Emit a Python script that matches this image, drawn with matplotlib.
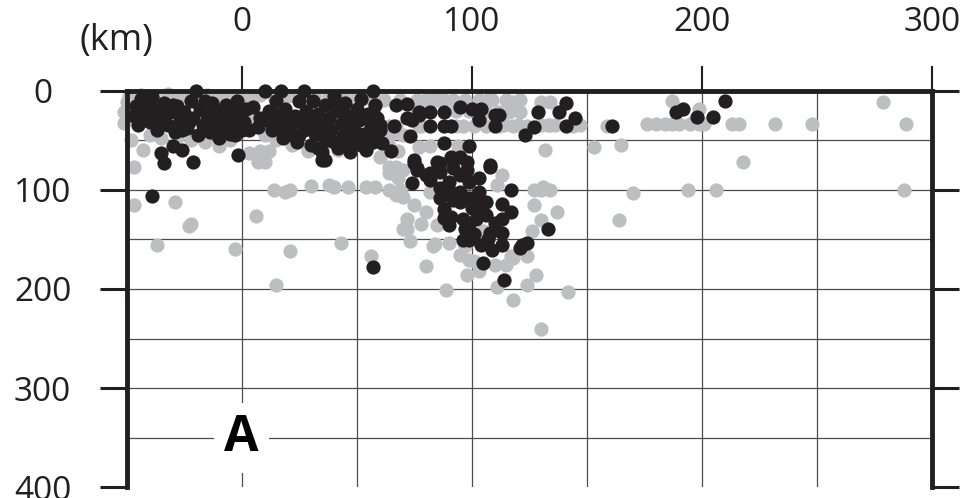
import matplotlib.pyplot as plt
import numpy as np

# distance along profile (km), depth (km)
gray_pts = [
    (-49, 5), (-44, 4), (-38, 6), (-32, 3), (-27, 5), (-22, 8), (-15, 4), (-10, 6), (-5, 5), (0, 8),
    (4, 8), (8, 4), (14, 6), (20, 5), (26, 4), (32, 6), (38, 5), (44, 6), (50, 5), (56, 8),
    (62, 9), (69, 9), (76, 9), (80, 9), (83, 9), (85, 9), (88, 9), (92, 9), (97, 9), (103, 9),
    (107, 9), (109, 9), (115, 9), (117, 11), (119, 11), (121, 9), (130, 11), (134, 11),
    (-50, 11), (-51, 22), (-51, 33), (-48, 50), (-43, 60), (-47, 77), (-40, 45), (-35, 48),
    (-28, 47), (-22, 50), (-16, 52), (-10, 56), (-5, 50), (3, 28), (3, 63), (8, 61), (10, 45),
    (10, 72), (12, 61), (7, 72), (15, 50), (22, 55), (29, 61), (35, 58), (42, 60), (48, 58),
    (55, 55), (60, 50), (64, 56), (68, 61), (60, 67), (65, 44),
    (76, 20), (77, 22), (93, 20), (99, 20), (106, 22), (112, 22), (116, 22), (121, 21),
    (64, 36), (67, 36), (77, 36), (78, 36), (93, 36), (96, 36), (101, 36), (106, 36), (112, 36),
    (114, 35), (118, 36), (120, 35), (124, 36), (130, 35), (133, 35), (134, 35), (136, 35),
    (144, 36), (147, 35),
    (59, 45), (70, 45), (82, 56), (77, 57), (94, 56), (132, 60), (153, 57), (165, 55),
    (64, 77), (70, 80), (67, 77), (64, 83), (113, 85), (111, 95),
    (40, 97), (46, 97), (54, 97), (58, 97), (64, 100), (69, 100), (127, 100), (130, 100),
    (134, 100), (131, 97),
    (30, 96), (38, 95), (14, 100), (19, 102), (21, 100), (68, 88), (67, 105), (70, 107),
    (75, 115), (82, 102),
    (72, 129), (72, 140), (78, 134), (80, 122), (73, 152), (70, 140), (84, 155), (83, 157), (85, 135),
    (90, 154), (95, 166), (98, 186), (89, 201), (103, 182), (110, 176), (111, 198), (118, 169),
    (118, 211), (124, 196), (128, 186), (130, 240), (142, 203), (127, 115), (130, 130), (137, 122),
    (126, 142), (124, 167), (117, 167), (101, 172), (105, 142), (99, 171), (97, 157), (115, 176),
    (80, 177), (56, 167), (43, 154),
    (164, 130), (170, 103),
    (-47, 115), (-29, 112), (-22, 134), (-23, 136), (-37, 156), (-3, 160), (6, 126), (21, 162), (15, 196),
    (176, 34), (180, 34), (184, 34), (187, 34), (190, 34), (195, 34), (199, 34), (201, 34),
    (213, 34), (216, 34), (232, 34), (248, 34), (289, 34), (187, 10), (199, 18), (279, 11),
    (159, 36), (218, 72), (194, 100), (206, 100), (288, 100),
]

black_pts = [
    (-47, 26), (-46, 15), (-45, 35), (-44, 8), (-42, 22), (-41, 12), (-40, 32), (-39, 6),
    (-38, 18), (-37, 40), (-35, 26), (-34, 12), (-32, 35), (-31, 22), (-29, 42), (-28, 15),
    (-27, 30), (-25, 22), (-24, 38), (-22, 10), (-21, 28), (-20, 0), (-19, 45), (-18, 18),
    (-17, 35), (-15, 25), (-14, 42), (-13, 12), (-12, 30), (-10, 48), (-10, 20), (-8, 36),
    (-7, 14), (-6, 27), (-5, 44), (-4, 20), (-3, 34), (-2, 10), (-1, 25), (0, 40), (2, 18),
    (-43, 30), (-36, 33), (-30, 14), (-26, 40), (-23, 32), (-16, 10), (-11, 38), (-9, 28),
    (-3, 45), (1, 32), (3, 40),
    (5, 16), (7, 37), (8, 28), (10, 0), (12, 20), (13, 40), (15, 10), (16, 30), (17, 0),
    (18, 48), (19, 18), (21, 36), (23, 26), (24, 52), (25, 10), (27, 0), (27, 40), (28, 20),
    (29, 30), (30, 55), (31, 10), (32, 44), (33, 24), (34, 35), (35, 62), (36, 14), (37, 50),
    (38, 28), (39, 40), (40, 5), (41, 20), (42, 58), (43, 34), (44, 46), (45, 12), (46, 26),
    (47, 62), (48, 38), (49, 50), (50, 18), (51, 30), (52, 8), (53, 44), (54, 60), (55, 24),
    (56, 36), (57, 0), (57, 52), (58, 14), (59, 28), (60, 40), (36, 70), (-1.5, 65),
    (20, 26), (22, 45), (26, 33), (31, 38), (35, 45), (40, 12), (44, 22), (47, 48), (50, 43),
    (52, 55), (55, 48), (58, 45), (45, 55), (40, 52), (33, 58), (25, 45), (19, 40), (14, 24), (11, 30),
    (-30, 56), (-35, 63), (-34, 73), (-26, 60), (-21, 72), (-39, 106),
    (57, 21), (60, 35), (66, 36), (61, 53), (65, 61), (67, 14), (72, 13), (72, 28), (74, 30), (73, 46),
    (77, 25), (77, 21), (82, 21), (88, 21), (95, 16), (100, 18), (104, 18), (110, 25), (82, 36),
    (88, 36), (91, 36), (103, 30), (110, 36), (112, 25), (129, 21), (123, 45), (127, 37),
    (138, 22), (141, 12), (145, 28), (141, 36), (161, 36),
    (88, 53), (99, 56), (108, 75), (75, 73), (85, 72), (91, 67), (95, 67), (98, 72), (75, 70),
    (76, 80), (82, 83), (86, 73), (92, 70),
    (76, 78), (74, 93), (80, 85), (86, 98), (86, 108), (88, 119), (90, 135), (91, 127), (95, 85),
    (95, 102), (95, 112), (96, 129), (96, 151), (99, 151), (99, 139), (99, 92), (99, 108),
    (103, 88), (103, 102), (103, 119), (106, 125), (102, 129), (108, 144), (104, 156), (105, 174),
    (109, 161), (113, 144), (113, 156), (113, 129), (113, 114), (117, 122), (117, 100), (114, 191),
    (122, 156), (124, 154), (133, 139), (108, 77), (86, 82), (92, 78), (98, 80), (90, 92),
    (103, 110), (121, 159), (82, 90), (90, 100), (92, 110), (88, 128), (100, 118), (106, 112),
    (97, 140), (101, 145), (110, 133), (107, 150),
    (35, 70), (57, 178),
    (189, 21), (192, 18), (198, 27), (205, 27), (210, 10),
]

xticks = [0, 100, 200, 300]
yticks = [0, 100, 200, 300, 400]
xgrid = [0, 50, 100, 150, 200, 250]
ygrid = [50, 100, 150, 200, 250, 300, 350]

gray = np.array(gray_pts)
black = np.array(black_pts)

plt.rcParams['font.family'] = ['Open Sans', 'DejaVu Sans']
ink = '#231f20'

fig = plt.figure(figsize=(9.68, 4.98), dpi=100)
ax = fig.add_axes([0.1309, 0.0215, 0.8316, 0.7964])

for g in xgrid:
    ax.axvline(g, color='#4d4d4d', lw=0.9, zorder=0.5)
for g in ygrid:
    ax.axhline(g, color='#4d4d4d', lw=0.9, zorder=0.5)

ax.scatter(gray[:, 0], gray[:, 1], s=105, color='#bcbec0', linewidths=0, zorder=1, clip_on=False)
ax.scatter(black[:, 0], black[:, 1], s=105, color=ink, linewidths=0, zorder=1.2, clip_on=False)

ax.set_xlim(-50, 300)
ax.set_ylim(400, 0)

ax.spines['bottom'].set_visible(False)
for s in ['top', 'left', 'right']:
    ax.spines[s].set_linewidth(3.5)
    ax.spines[s].set_color(ink)

ax.xaxis.tick_top()
ax.set_xticks(xticks)
ax.set_yticks(yticks)
ax.set_xticklabels([str(v) for v in xticks])
ax.set_yticklabels([str(v) for v in yticks])
ax.tick_params(axis='x', direction='out', length=18, width=1.5, pad=19, labelsize=24,
               colors=ink, top=True, bottom=False, labeltop=True, labelbottom=False)
ax.tick_params(axis='y', direction='out', length=19.5, width=2.2, pad=41, labelsize=24,
               colors=ink, left=True, right=True, labelleft=True, labelright=False)
for lbl in ax.get_yticklabels():
    lbl.set_horizontalalignment('center')

fig.text(116 / 968, 1 - 50 / 498, '(km)', ha='center', va='baseline', fontsize=26, color=ink)

ax.text(0, 350, 'A', ha='center', va='center', fontsize=36, fontweight='bold', color='black',
        bbox=dict(boxstyle='square,pad=0.2', fc='white', ec='none'), zorder=3)

fig.savefig('out.png', dpi=100)
